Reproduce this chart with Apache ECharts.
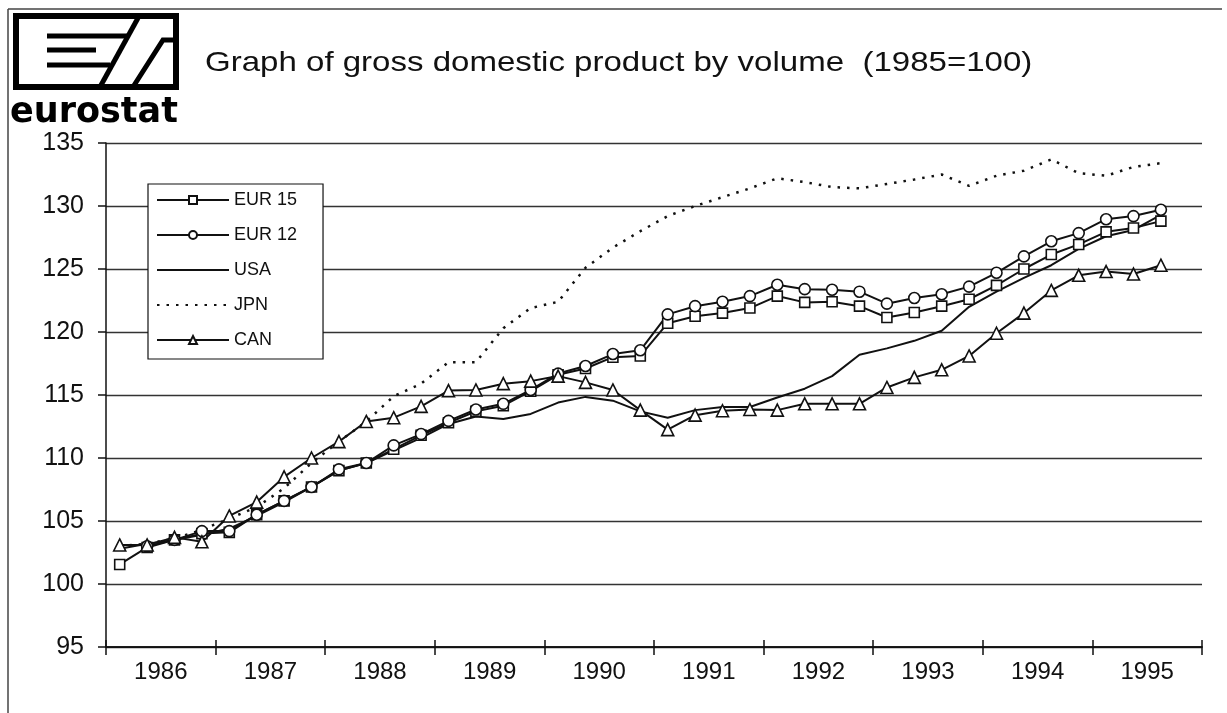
<!DOCTYPE html>
<html>
<head>
<meta charset="utf-8">
<title>Graph of gross domestic product by volume</title>
<script src="https://cdn.jsdelivr.net/npm/echarts@6/dist/echarts.min.js"></script>
<style>
html, body { margin: 0; padding: 0; background: #fff; }
#main { width: 1227px; height: 713px; }
</style>
</head>
<body>
<div id="main"></div>
<script>
// years on the axis, data is quarterly (1986 Q1 .. 1995 Q3)
var years = ['1986', '1987', '1988', '1989', '1990', '1991', '1992', '1993', '1994', '1995'];
var yTicks = [95, 100, 105, 110, 115, 120, 125, 130, 135];

var quarters = [];
years.forEach(function (y) {
    quarters.push(y + ' Q1', y + ' Q2', y + ' Q3', y + ' Q4');
});

var eur15 = [101.55, 102.9, 103.5, 104.0, 104.1, 105.5, 106.6, 107.7, 109.0, 109.6,
    110.7, 111.8, 112.8, 113.7, 114.15, 115.3, 116.6, 117.1, 118.0, 118.1,
    120.7, 121.25, 121.5, 121.9, 122.85, 122.35, 122.4, 122.05, 121.15, 121.55,
    122.05, 122.6, 123.7, 125.0, 126.15, 126.95, 127.95, 128.25, 128.8];
// no circle is visible in the first quarter
var eur12 = ['-', 103.0, 103.5, 104.2, 104.2, 105.5, 106.6, 107.7, 109.1, 109.6,
    111.0, 111.9, 112.95, 113.85, 114.3, 115.4, 116.7, 117.3, 118.25, 118.55,
    121.4, 122.05, 122.4, 122.85, 123.75, 123.4, 123.35, 123.2, 122.25, 122.7,
    123.0, 123.6, 124.7, 126.0, 127.2, 127.85, 128.95, 129.2, 129.7];
var usa = [102.8, 103.2, 103.5, 103.9, 104.4, 105.4, 106.5, 107.7, 109.0, 109.6,
    110.6, 111.6, 112.7, 113.3, 113.1, 113.5, 114.4, 114.85, 114.55, 113.7,
    113.2, 113.8, 114.05, 114.05, 114.8, 115.5, 116.5, 118.2, 118.7, 119.3,
    120.1, 122.0, 123.2, 124.3, 125.3, 126.6, 127.6, 128.1, 129.3];
var jpn = [103.0, 103.2, 103.6, 104.3, 105.2, 106.1, 107.6, 109.6, 111.3, 112.9,
    114.9, 115.9, 117.6, 117.6, 120.3, 121.9, 122.4, 125.1, 126.7, 128.0,
    129.2, 130.0, 130.7, 131.4, 132.2, 131.9, 131.5, 131.4, 131.75, 132.1,
    132.5, 131.6, 132.4, 132.8, 133.7, 132.6, 132.4, 133.1, 133.4];
var can = [103.1, 103.1, 103.7, 103.35, 105.4, 106.5, 108.5, 110.0, 111.3, 112.9,
    113.2, 114.1, 115.35, 115.4, 115.9, 116.1, 116.5, 116.0, 115.4, 113.8,
    112.25, 113.4, 113.75, 113.85, 113.8, 114.3, 114.3, 114.3, 115.6, 116.4,
    117.0, 118.1, 119.9, 121.5, 123.3, 124.5, 124.8, 124.6, 125.3];

var font = 'Liberation Sans, Arial, sans-serif';
var ink = '#111';
var noMark = { color: 'rgba(0,0,0,0)', borderColor: 'rgba(0,0,0,0)', borderWidth: 0 };

var myChart = echarts.init(document.getElementById('main'));

function markerSeries(name, data, symbol, size) {
    return {
        name: name,
        type: 'line',
        xAxisIndex: 1,
        data: data,
        symbol: symbol,
        symbolSize: size,
        showAllSymbol: true,
        lineStyle: { color: ink, width: 2 },
        itemStyle: { color: '#fff', borderColor: ink, borderWidth: 1.6 },
        emphasis: { disabled: true }
    };
}

var option = {
    backgroundColor: '#fff',
    animation: false,
    legend: {
        orient: 'vertical',
        left: 148,
        top: 184,
        padding: [7, 26, 10, 8],
        backgroundColor: '#fff',
        borderColor: ink,
        borderWidth: 1.2,
        borderRadius: 0,
        itemWidth: 72,
        itemHeight: 10,
        itemGap: 17,
        textStyle: { fontFamily: font, fontSize: 18, color: ink },
        data: [
            'EUR 15',
            'EUR 12',
            { name: 'USA', itemStyle: noMark },
            { name: 'JPN', itemStyle: noMark },
            'CAN'
        ]
    },
    grid: { left: 106, right: 25, top: 143, bottom: 66 },
    xAxis: [
        {
            type: 'category',
            data: years,
            boundaryGap: true,
            position: 'bottom',
            axisLine: { lineStyle: { color: ink, width: 1.5 } },
            axisTick: { show: true, interval: 0, length: 8, lineStyle: { color: ink, width: 1.5 } },
            axisLabel: { fontFamily: font, fontSize: 24, color: ink, margin: 13 },
            splitLine: { show: false }
        },
        {
            type: 'category',
            data: quarters,
            boundaryGap: true,
            position: 'bottom',
            axisLine: { lineStyle: { color: ink, width: 1.5 } },
            axisTick: { show: true, inside: true, interval: 3, length: 7, lineStyle: { color: ink, width: 1.5 } },
            axisLabel: { show: false },
            splitLine: { show: false }
        }
    ],
    yAxis: {
        type: 'value',
        min: yTicks[0],
        max: yTicks[yTicks.length - 1],
        interval: 5,
        axisLine: { show: true, lineStyle: { color: ink, width: 1.5 } },
        axisTick: { show: true, length: 8, lineStyle: { color: ink, width: 1.5 } },
        axisLabel: { fontFamily: font, fontSize: 25, color: ink, margin: 22 },
        splitLine: { show: true, lineStyle: { color: '#333', width: 1.4 } }
    },
    series: [
        markerSeries('EUR 15', eur15, 'rect', 10),
        markerSeries('EUR 12', eur12, 'circle', 11),
        {
            name: 'USA',
            type: 'line',
            xAxisIndex: 1,
            data: usa,
            symbol: 'none',
            lineStyle: { color: ink, width: 2 },
            itemStyle: { color: ink },
            emphasis: { disabled: true }
        },
        {
            name: 'JPN',
            type: 'line',
            xAxisIndex: 1,
            data: jpn,
            symbol: 'none',
            lineStyle: { color: ink, width: 2.5, type: [2.5, 7] },
            itemStyle: { color: ink },
            emphasis: { disabled: true }
        },
        markerSeries('CAN', can, 'triangle', 12)
    ],
    graphic: [
        // page frame
        { type: 'line', shape: { x1: 8, y1: 9, x2: 1222, y2: 9 }, style: { stroke: '#444', lineWidth: 1.5 } },
        { type: 'line', shape: { x1: 8, y1: 9, x2: 8, y2: 713 }, style: { stroke: '#444', lineWidth: 1.5 } },
        // title, stretched a little like the scanned original
        {
            type: 'text', x: 205, y: 63, scaleX: 1.18,
            style: {
                text: 'Graph of gross domestic product by volume  (1985=100)',
                fontFamily: font, fontSize: 28, fill: ink, verticalAlign: 'middle'
            }
        },
        // eurostat logo
        { type: 'rect', shape: { x: 16, y: 16, width: 160, height: 71 }, style: { fill: '#fff', stroke: '#000', lineWidth: 6 } },
        { type: 'polyline', shape: { points: [[47, 36], [128, 36]] }, style: { stroke: '#000', lineWidth: 5, fill: null } },
        { type: 'polyline', shape: { points: [[47, 50], [96, 50]] }, style: { stroke: '#000', lineWidth: 5, fill: null } },
        { type: 'polyline', shape: { points: [[47, 65], [110, 65]] }, style: { stroke: '#000', lineWidth: 5, fill: null } },
        { type: 'polyline', shape: { points: [[100, 87], [138, 18]] }, style: { stroke: '#000', lineWidth: 5, fill: null } },
        { type: 'polyline', shape: { points: [[133, 87], [163, 40], [177, 40]] }, style: { stroke: '#000', lineWidth: 5, fill: null } },
        {
            type: 'text', left: 10, top: 95,
            style: { text: 'eurostat', fontFamily: 'DejaVu Sans, sans-serif', fontWeight: 'bold', fontSize: 35, fill: '#000' }
        }
    ]
};

myChart.setOption(option);
</script>
</body>
</html>
